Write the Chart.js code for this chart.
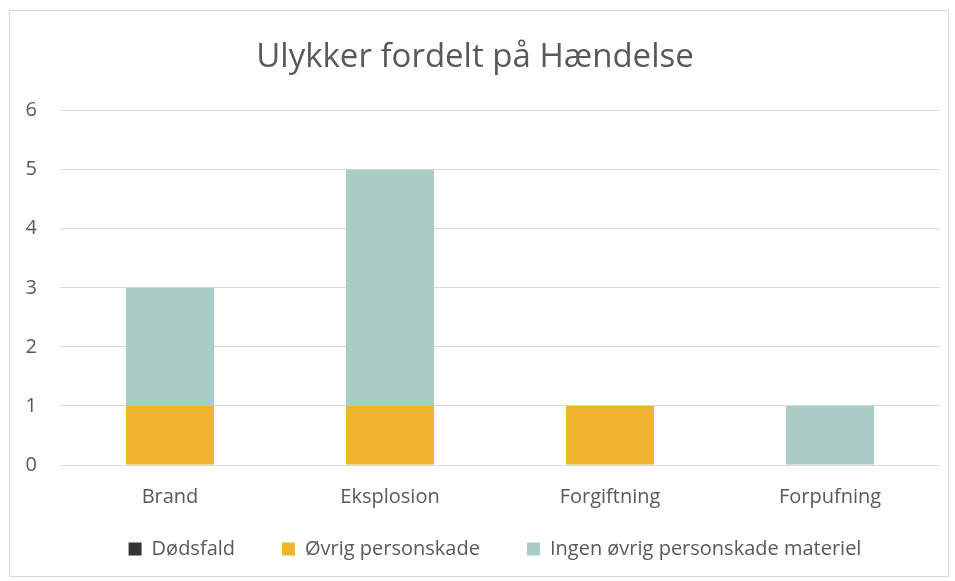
<!DOCTYPE html>
<html>
<head>
<meta charset="utf-8">
<script src="https://cdn.jsdelivr.net/npm/chart.js@4"></script>
<style>
  html, body { margin: 0; padding: 0; background: #fff; }
  #wrap { position: relative; width: 955px; height: 581px; }
  #frame { position: absolute; left: 9px; top: 10px; width: 940px; height: 567px; border: 1px solid #d9d9d9; box-sizing: border-box; }
  canvas { position: absolute; left: 0; top: 0; }
</style>
</head>
<body>
<div id="wrap">
  <div id="frame"></div>
  <canvas id="chart" width="955" height="581"></canvas>
</div>
<script>
// data
const kategorier = ['Brand', 'Eksplosion', 'Forgiftning', 'Forpufning']
const doedsfald = [0, 0, 0, 0]
const oevrigPersonskade = [1, 1, 1, 0]
const ingenPersonskade = [2, 4, 0, 1]
const yTicks = [0, 1, 2, 3, 4, 5, 6]

const tekstFarve = '#595959'
const font = 'Open Sans'

// flyt legenden lidt op/til højre, så den ligger som i Excel
// og giv x-aksens labels plads, så de ikke klippes
const flytLegende = {
  id: 'flytLegende',
  afterLayout(chart) {
    const l = chart.legend
    l.top -= 12
    l.bottom -= 12
    l.left += 20
    l.right += 20
    chart.scales.x.bottom += 30
  }
}

const ctx = document.getElementById('chart')
new Chart(ctx, {
  type: 'bar',
  data: {
    labels: kategorier,
    datasets: [
      { label: 'Dødsfald', data: doedsfald, backgroundColor: '#333333' },
      { label: 'Øvrig personskade', data: oevrigPersonskade, backgroundColor: '#F0B32F' },
      { label: 'Ingen øvrig personskade materiel', data: ingenPersonskade, backgroundColor: '#A9CCC6' }
    ]
  },
  options: {
    responsive: false,
    animation: false,
    layout: { padding: { left: 10, right: 15, top: 10, bottom: 0 } },
    datasets: { bar: { categoryPercentage: 1, barPercentage: 0.4 } },
    plugins: {
      title: {
        display: true,
        text: 'Ulykker fordelt på Hændelse',
        color: tekstFarve,
        font: { family: font, size: 33, weight: 'normal' },
        padding: { top: 28, bottom: 33 }
      },
      legend: {
        position: 'bottom',
        labels: {
          color: tekstFarve,
          font: { family: font, size: 20 },
          boxWidth: 13,
          boxHeight: 13,
          padding: 47
        }
      },
      tooltip: { enabled: false }
    },
    scales: {
      x: {
        stacked: true,
        grid: { display: false },
        border: { display: false },
        ticks: { color: tekstFarve, font: { family: font, size: 20 }, padding: 12, maxRotation: 0, autoSkip: false },
        afterFit: s => { s.height = 39 }
      },
      y: {
        stacked: true,
        min: 0,
        max: 6,
        afterBuildTicks: s => { s.ticks = yTicks.map(v => ({ value: v })) },
        grid: { color: '#d9d9d9', drawTicks: false, lineWidth: 1 },
        border: { display: false },
        ticks: { color: tekstFarve, font: { family: font, size: 20 }, padding: 23 },
        afterFit: s => { s.width = 50 }
      }
    }
  },
  plugins: [flytLegende]
})
</script>
</body>
</html>
